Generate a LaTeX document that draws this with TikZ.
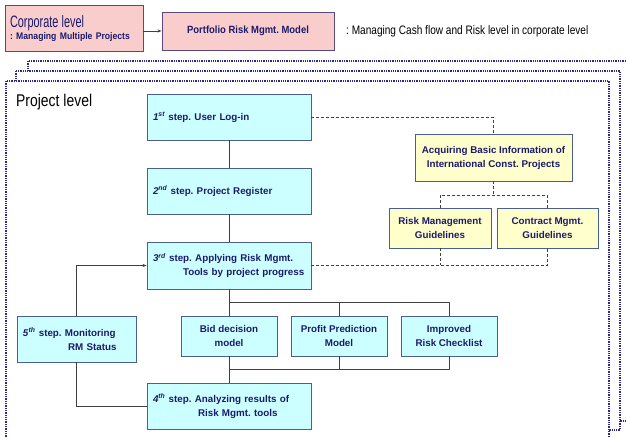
\documentclass[tikz,border=0pt]{standalone}
\usepackage{fontspec}
\setmainfont{Liberation Sans}
\newfontfamily\condfont[FakeStretch=0.82]{Liberation Sans}
\newfontfamily\narrowfont[FakeStretch=0.66]{Liberation Sans}
\newfontfamily\semifont[FakeStretch=0.9]{Liberation Sans}
\usetikzlibrary{arrows.meta}

\definecolor{navytext}{HTML}{1B1B6B}
\definecolor{boxline}{HTML}{4A5E96}
\definecolor{pinkline}{HTML}{5A4A7A}
\definecolor{cyanfill}{HTML}{CCFFFF}
\definecolor{pinkfill}{HTML}{FACDCD}
\definecolor{yellowfill}{HTML}{FFFFCC}
\definecolor{dotnavy}{HTML}{2B2B85}
\definecolor{wire}{HTML}{404040}

% ordinal step number: italic digit with italic superscript
\newcommand\stepno[2]{\textit{#1}\textsuperscript{\itshape #2}}

\tikzset{
  framedot/.style={draw=dotnavy, line width=1.3pt, dash pattern=on 1.3pt off 1pt, fill=white},
  boxfont/.style={font=\fontsize{9.8}{14}\selectfont\bfseries\frenchspacing, text=navytext},
  stepbox/.style={boxfont, draw=boxline, fill=cyanfill, line width=0.9pt,
    minimum height=46pt, inner xsep=6pt, inner ysep=0pt, text width=152pt, align=left},
  toolbox/.style={boxfont, draw=boxline, fill=cyanfill, line width=0.9pt,
    minimum width=96pt, minimum height=40pt, inner sep=0pt, align=center},
  guidebox/.style={boxfont, draw=boxline, fill=yellowfill, line width=0.9pt,
    minimum height=40pt, inner sep=0pt, align=center},
  pinkbox/.style={draw=pinkline, fill=pinkfill, line width=0.9pt, text=navytext},
  wireline/.style={draw=wire, line width=0.8pt},
  dashline/.style={draw=wire, line width=0.8pt, dash pattern=on 3pt off 2pt},
}

\begin{document}
\frenchspacing
\begin{tikzpicture}[x=1pt,y=-1pt]
\useasboundingbox (0,0) rectangle (626,438);

% stacked dotted frames of the project level (back to front)
\begin{scope}
  \clip (0,0) rectangle (626,438);
  \path[framedot] (28,61) rectangle (650,421);
  \path[framedot] (16,71) rectangle (620,430);
  \path[framedot] (6,81) rectangle (609,460);
\end{scope}

% corporate level
\node[pinkbox, minimum width=138pt, minimum height=46pt, inner xsep=5pt,
      text width=128pt, align=left] (corp) at (74,28.5)
  {{\narrowfont\fontsize{16.5}{18}\selectfont Corporate level}\\
   {\semifont\fontsize{9.6}{11}\selectfont\bfseries : Managing Multiple Projects}};
\node[pinkbox, minimum width=172pt, minimum height=38pt, inner sep=0pt,
      font=\semifont\fontsize{10.5}{12}\selectfont\bfseries] (port) at (248,31)
  {Portfolio Risk Mgmt. Model};
\node[anchor=west, inner sep=0pt, font=\condfont\fontsize{12.3}{14}\selectfont] (cash) at (346,31)
  {: Managing Cash flow and Risk level in corporate level};
\draw[wireline, -{Stealth[length=4pt,width=3pt]}] (port.west -| corp.east) -- (port.west);

% project level
\node[anchor=base west, inner sep=0pt, font=\condfont\fontsize{17}{18}\selectfont] (plevel) at (16,107)
  {Project level};

\node[stepbox] (s1) at (229,117) {\stepno{1}{st} step. User Log-in};
\node[stepbox] (s2) at (229,191) {\stepno{2}{nd} step. Project Register};
\node[stepbox, minimum height=47pt] (s3) at (229,265.5)
  {\mbox{\stepno{3}{rd} step. Applying Risk Mgmt.}\\
   \hspace*{30pt}\mbox{Tools by project progress}};
\node[stepbox] (s4) at (229,406)
  {\mbox{\stepno{4}{th} step. Analyzing results of}\\
   \hspace*{45pt}\mbox{Risk Mgmt. tools}};
\node[stepbox, text width=107pt] (s5) at (76.5,339)
  {\mbox{\stepno{5}{th} step. Monitoring}\\
   \hspace*{45pt}\mbox{RM Status}};

\node[toolbox] (bid) at (229,336) {Bid decision\\model};
\node[toolbox] (prof) at (339,336) {Profit Prediction\\Model};
\node[toolbox] (imp) at (449,336) {Improved\\Risk Checklist};

\node[guidebox, minimum width=157pt, minimum height=47pt] (acq) at (493.5,157.5)
  {Acquiring Basic Information of\\International Const. Projects};
\node[guidebox, minimum width=102pt] (rmg) at (440,228) {Risk Management\\Guidelines};
\node[guidebox, minimum width=101pt] (cmg) at (547.5,228) {Contract Mgmt.\\Guidelines};

% solid connectors
\coordinate (busT) at (229,302);
\coordinate (busB) at (229,369);
\draw[wireline] (s1) -- (s2);
\draw[wireline] (s2) -- (s3);
\draw[wireline] (s3.south) -- (bid.north);
\draw[wireline] (busT) -| (prof.north);
\draw[wireline] (busT) -| (imp.north);
\draw[wireline] (bid.south) -- (s4.north);
\draw[wireline] (prof.south) |- (busB);
\draw[wireline] (imp.south) |- (busB);
\draw[wireline] (s4.west) -| (s5.south);
\draw[wireline, -{Stealth[length=4pt,width=3pt]}] (s5.north) |- (s3.west);

% dashed connectors
\coordinate (busA) at (493.5,195);
\draw[dashline] (s1.east) -| (acq.north);
\draw[dashline] (acq.south) -- (busA);
\draw[dashline] (rmg.north) |- (busA);
\draw[dashline] (cmg.north) |- (busA);
\draw[dashline] (s3.east) -| (cmg.south);
\draw[dashline] (rmg.south) -- (rmg.south |- s3.east);
\end{tikzpicture}
\end{document}
